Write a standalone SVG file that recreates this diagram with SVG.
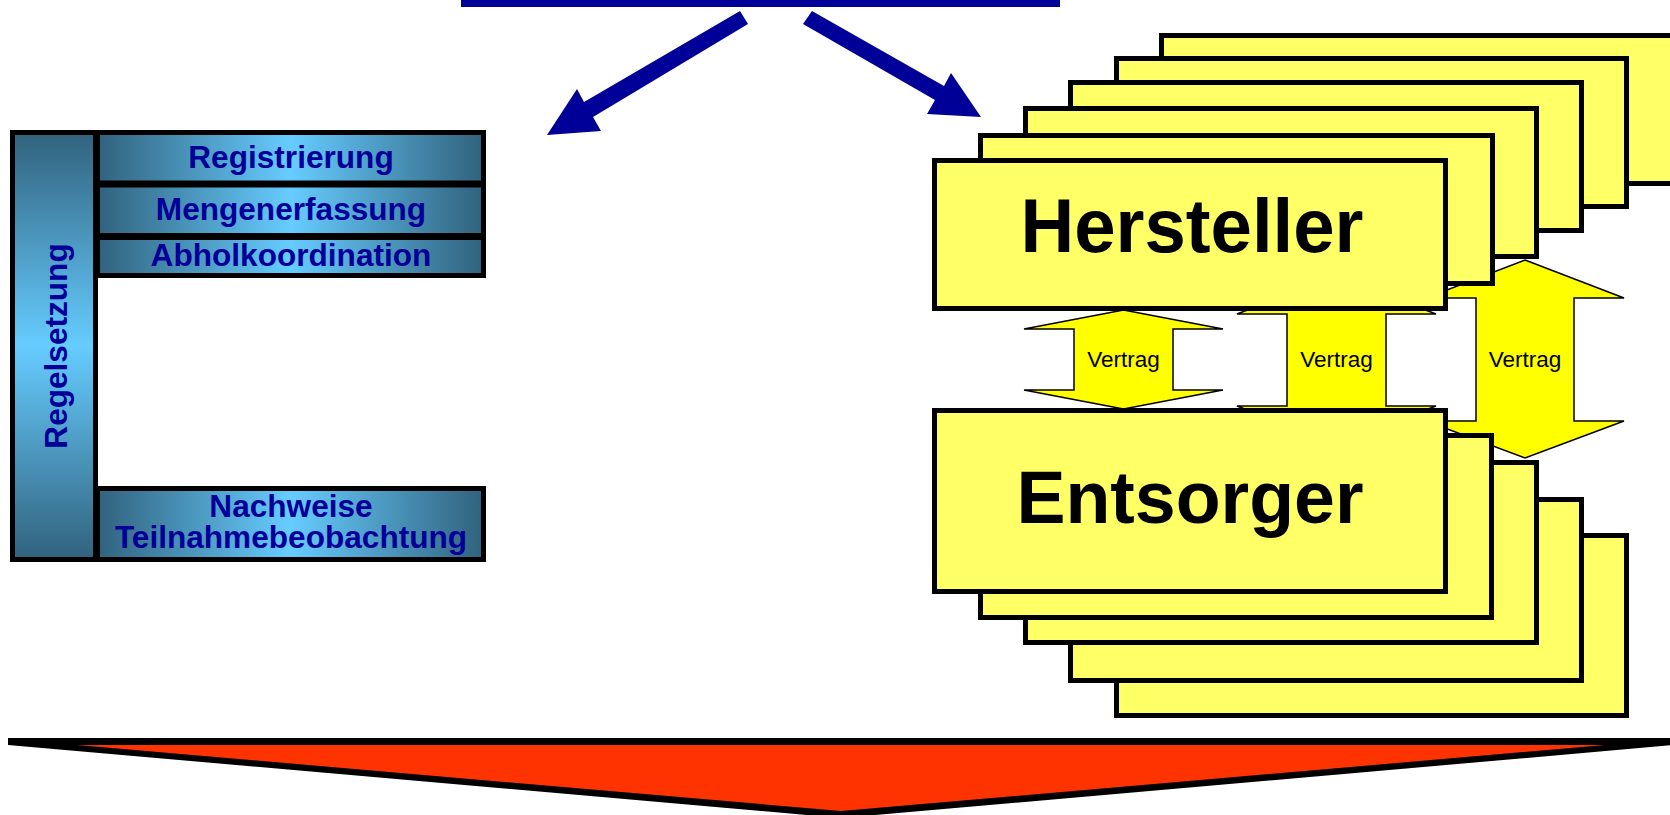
<svg xmlns="http://www.w3.org/2000/svg" width="1670" height="815" viewBox="0 0 1670 815">
<defs>
<linearGradient id="gh" x1="0" y1="0" x2="1" y2="0">
<stop offset="0" stop-color="#31627D"/>
<stop offset="0.5" stop-color="#66CCFF"/>
<stop offset="1" stop-color="#31627D"/>
</linearGradient>
<linearGradient id="gv" x1="0" y1="0" x2="0" y2="1">
<stop offset="0" stop-color="#31627D"/>
<stop offset="0.5" stop-color="#66CCFF"/>
<stop offset="1" stop-color="#31627D"/>
</linearGradient>
<style>
.panel{stroke:#000;stroke-width:5}
.ptxt{font-family:"Liberation Sans",Arial,sans-serif;font-weight:bold;font-size:31.6px;fill:#000099;text-anchor:middle}
.ybox{fill:#FFFF66;stroke:#000;stroke-width:5}
.big{font-family:"Liberation Sans",Arial,sans-serif;font-weight:bold;font-size:73.5px;fill:#000;text-anchor:middle}
.varrow{fill:#FFFF00;stroke:#000;stroke-width:1.5;stroke-linejoin:miter}
.vtxt{font-family:"Liberation Sans",Arial,sans-serif;font-size:22.5px;fill:#000;text-anchor:middle}
.blue{fill:#000099}
</style>
</defs>
<rect width="1670" height="815" fill="#fff"/>

<g id="title-bar">
<rect class="blue" x="461" y="0" width="599" height="7"/>
</g>

<g id="connectors">
<polygon class="blue" points="740,11 748,24 593,117 601,131 547,135 577,89 584,102"/>
<polygon class="blue" points="812,11 944,86 951,73 981,117 927,114 935,100 803,24"/>
<polygon class="varrow" points="1525,260 1624,298 1574,298 1574,421 1624,421 1525,458 1426,421 1476,421 1476,298 1426,298"/>
<polygon class="varrow" points="1336.5,276 1436,314 1386,314 1386,406 1436,406 1336.5,444 1237,406 1287,406 1287,314 1237,314"/>
<polygon class="varrow" points="1123.5,310 1223,329 1173,329 1173,390 1223,390 1123.5,409 1024,390 1074,390 1074,329 1024,329"/>
<text class="vtxt" x="1123.5" y="366.5">Vertrag</text>
<text class="vtxt" x="1336.5" y="366.5">Vertrag</text>
<text class="vtxt" x="1525" y="366.5">Vertrag</text>
</g>

<g id="regelsetzung">
<rect class="panel" x="12.5" y="132.5" width="83" height="427" fill="url(#gv)"/>
<text class="ptxt" transform="translate(67,346) rotate(-90)">Regelsetzung</text>
</g>
<g id="registrierung">
<rect class="panel" x="97.5" y="132.5" width="386" height="50.5" fill="url(#gh)"/>
<text class="ptxt" x="291" y="168">Registrierung</text>
</g>
<g id="mengenerfassung">
<rect class="panel" x="97.5" y="185" width="386" height="50.5" fill="url(#gh)"/>
<text class="ptxt" x="291" y="220">Mengenerfassung</text>
</g>
<g id="abholkoordination">
<rect class="panel" x="97.5" y="237.5" width="386" height="38" fill="url(#gh)"/>
<text class="ptxt" x="291" y="266">Abholkoordination</text>
</g>
<g id="nachweise">
<rect class="panel" x="97.5" y="488.5" width="386" height="71" fill="url(#gh)"/>
<text class="ptxt" x="291" y="517">Nachweise</text>
<text class="ptxt" x="291" y="548">Teilnahmebeobachtung</text>
</g>

<g id="hersteller-stack">
<rect class="ybox" x="1161.5" y="35.5" width="520" height="148"/>
<rect class="ybox" x="1116.5" y="58.5" width="510" height="148"/>
<rect class="ybox" x="1070.5" y="82.5" width="511" height="148"/>
<rect class="ybox" x="1025.5" y="108.5" width="511" height="148"/>
<rect class="ybox" x="980.5" y="135.5" width="512" height="148"/>
</g>
<g id="hersteller">
<rect class="ybox" x="934.5" y="160.5" width="511" height="148"/>
<text class="big" x="1192" y="252" style="font-size:76px" textLength="343" lengthAdjust="spacingAndGlyphs">Hersteller</text>
</g>

<g id="entsorger-stack">
<rect class="ybox" x="1116.5" y="535.5" width="510" height="180"/>
<rect class="ybox" x="1070.5" y="499.5" width="511" height="181"/>
<rect class="ybox" x="1025.5" y="462.5" width="511" height="180"/>
<rect class="ybox" x="980.5" y="435.5" width="511" height="182"/>
</g>
<g id="entsorger">
<rect class="ybox" x="934.5" y="410.5" width="511" height="181"/>
<text class="big" x="1190" y="523">Entsorger</text>
</g>

<g id="result-arrow">
<polygon fill="#000" points="8,738 1674,738 1674,745 841,818 8,745"/>
<polygon fill="#FF3300" points="77,745 1605,745 841,811"/>
</g>
</svg>
